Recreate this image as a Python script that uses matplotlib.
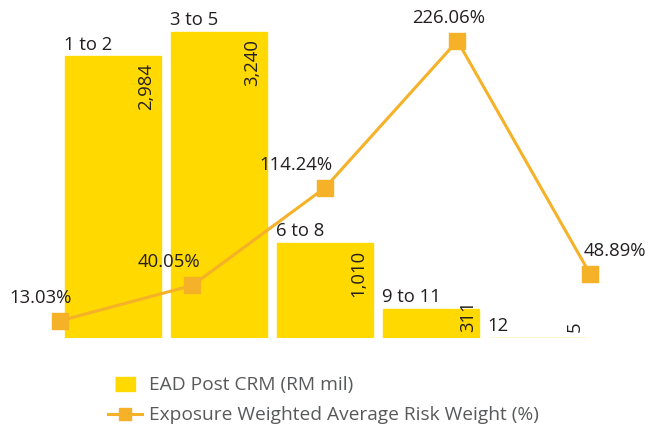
import matplotlib
matplotlib.use('Agg')
import matplotlib.pyplot as plt
from matplotlib.lines import Line2D

plt.rcParams['font.family'] = ['Open Sans', 'DejaVu Sans']

categories = ['1 to 2', '3 to 5', '6 to 8', '9 to 11', '12']
ead = [2984, 3240, 1010, 311, 5]
ead_labels = ['2,984', '3,240', '1,010', '311', '5']
risk_weight = [13.03, 40.05, 114.24, 226.06, 48.89]

# label offsets for the percentages (points)
pct_dx = [-14, -17, -21, -6, 18]

bar_col = '#FFD900'
line_col = '#F5B128'
txt_col = '#231F20'
fs = 13.3

fig = plt.figure(figsize=(6.49, 4.30), dpi=100)
ax = fig.add_axes([0.0924, 0.214, 0.8166, 0.7395])
x = range(len(categories))
bars = ax.bar(x, ead, width=0.905, color=bar_col, edgecolor=bar_col, lw=1.0)
ax.set_xlim(-0.5, 4.5)
ax.set_ylim(0, 3369)

for b, cat, lab, v in zip(bars, categories, ead_labels, ead):
    ax.annotate(cat, (b.get_x(), v), xytext=(-1, 2), textcoords='offset points',
                ha='left', va='bottom', fontsize=fs, color=txt_col)
    if v > 500:
        ax.annotate(lab, (b.get_x() + b.get_width(), v), xytext=(-4, -5),
                    textcoords='offset points', ha='right', va='top',
                    rotation=90, fontsize=fs, color=txt_col)
    else:
        ax.annotate(lab, (b.get_x() + b.get_width(), 0), xytext=(-1, 4),
                    textcoords='offset points', ha='right', va='bottom',
                    rotation=90, fontsize=fs, color=txt_col)

ax2 = ax.twinx().twiny()
ax2.set_xlim(0, 4)
ax2.set_ylim(0, 241.9)
ax2.plot(range(len(risk_weight)), risk_weight, color=line_col, lw=2.2,
         marker='s', ms=12, clip_on=False)
for i, (v, dx) in enumerate(zip(risk_weight, pct_dx)):
    ax2.annotate(f'{v:.2f}%', (i, v), xytext=(dx, 10), textcoords='offset points',
                 ha='center', va='bottom', fontsize=fs, color=txt_col)
for a in fig.axes:
    a.axis('off')

rect = [(-1.4, -1), (1.4, -1), (1.4, 1), (-1.4, 1)]
handles = [Line2D([], [], color=bar_col, marker=rect, ls='none', ms=15),
           Line2D([], [], color=line_col, marker='s', lw=2.2, ms=8)]
fig.legend(handles, ['EAD Post CRM (RM mil)', 'Exposure Weighted Average Risk Weight (%)'],
           loc='upper left', bbox_to_anchor=(0.152, 0.147), frameon=False,
           borderpad=0, fontsize=13.8, labelcolor='#58595B', handlelength=1.75,
           handletextpad=0.4, labelspacing=0.62)

fig.savefig('out.png', dpi=100)
